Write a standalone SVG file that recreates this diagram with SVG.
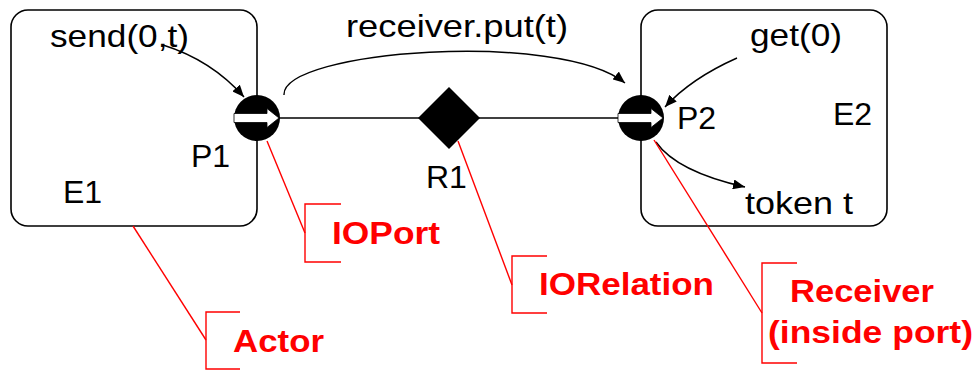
<svg xmlns="http://www.w3.org/2000/svg" width="976" height="370" viewBox="0 0 976 370">
  <style>
    .box { fill: #fff; stroke: #000; stroke-width: 1.6; }
    .lbl { font-family: "Liberation Sans", Arial, sans-serif; font-size: 32px; fill: #000; }
    .note { font-family: "Liberation Sans", Arial, sans-serif; font-size: 32px; font-weight: bold; fill: #ff0000; }
    .wire { fill: none; stroke: #000; stroke-width: 1.6; }
    .flow { fill: none; stroke: #000; stroke-width: 1.4; marker-end: url(#head); }
    .lead { fill: none; stroke: #ff0000; stroke-width: 1.4; }
  </style>
  <defs>
    <marker id="head" viewBox="0 0 12 10" refX="12" refY="5" markerWidth="12" markerHeight="10" markerUnits="userSpaceOnUse" orient="auto">
      <path d="M0,0 L12,5 L0,10 Z" fill="#000"/>
    </marker>
    <g id="port">
      <circle cx="0" cy="0" r="23" fill="#000"/>
      <path d="M-23,-4.5 H10 V-9.5 L22,0 L10,9.5 V4.5 H-23 Z" fill="#fff" stroke="#000" stroke-width="0.8"/>
    </g>
  </defs>

  <!-- actors -->
  <g id="E1">
    <rect class="box" x="11" y="10" width="246" height="216" rx="17"/>
    <text class="lbl" x="63" y="203">E1</text>
  </g>
  <g id="E2">
    <rect class="box" x="641" y="10" width="246" height="216" rx="17"/>
    <text class="lbl" x="833" y="125">E2</text>
  </g>

  <!-- relation wire -->
  <g id="connectors">
    <line class="wire" x1="257" y1="118" x2="641" y2="118"/>
    <path class="flow" d="M163,45 C195,55 222,72 244,97"/>
    <path class="flow" d="M284,95 C282,50 560,30 625,83"/>
    <path class="flow" d="M737,58 C710,70 685,85 665,107"/>
    <path class="flow" d="M656,142 C672,165 705,178 745,187"/>
  </g>

  <g id="P1">
    <use href="#port" x="257" y="118"/>
    <text class="lbl" x="191" y="167">P1</text>
  </g>
  <g id="P2">
    <use href="#port" x="641" y="118"/>
    <text class="lbl" x="677" y="129">P2</text>
  </g>
  <g id="R1">
    <path d="M449,87 L480,118 L449,149 L418,118 Z" fill="#000"/>
    <text class="lbl" x="426" y="188">R1</text>
  </g>

  <!-- method labels -->
  <g id="calls">
    <text class="lbl" x="50" y="47" textLength="139" lengthAdjust="spacingAndGlyphs">send(0,t)</text>
    <text class="lbl" x="346" y="37" textLength="222" lengthAdjust="spacingAndGlyphs">receiver.put(t)</text>
    <text class="lbl" x="750" y="46" textLength="92" lengthAdjust="spacingAndGlyphs">get(0)</text>
    <text class="lbl" x="745" y="214" textLength="108" lengthAdjust="spacingAndGlyphs">token t</text>
  </g>

  <!-- callouts -->
  <g id="callout-ioport">
    <path class="lead" d="M267,141 L305,233"/>
    <path class="lead" d="M341,204 H305 V262 H341"/>
    <text class="note" x="332" y="244" textLength="108" lengthAdjust="spacingAndGlyphs">IOPort</text>
  </g>
  <g id="callout-actor">
    <path class="lead" d="M133,226 L206,340"/>
    <path class="lead" d="M240,312 H206 V369 H240"/>
    <text class="note" x="233" y="352" textLength="91" lengthAdjust="spacingAndGlyphs">Actor</text>
  </g>
  <g id="callout-iorelation">
    <path class="lead" d="M458,141 L512,285"/>
    <path class="lead" d="M547,256 H512 V313 H547"/>
    <text class="note" x="539" y="295" textLength="175" lengthAdjust="spacingAndGlyphs">IORelation</text>
  </g>
  <g id="callout-receiver">
    <path class="lead" d="M654,140 L762,313"/>
    <path class="lead" d="M797,263 H762 V363 H797"/>
    <text class="note" x="790" y="302" textLength="144" lengthAdjust="spacingAndGlyphs">Receiver</text>
    <text class="note" x="768" y="343" textLength="205" lengthAdjust="spacingAndGlyphs">(inside port)</text>
  </g>
</svg>
